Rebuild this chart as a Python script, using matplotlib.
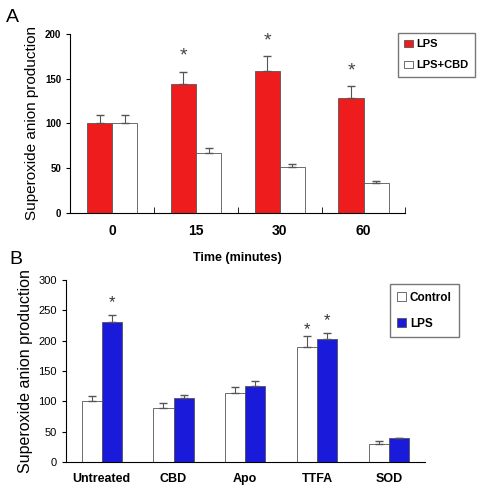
import matplotlib
matplotlib.use("Agg")
import matplotlib.pyplot as plt
import numpy as np

plt.rcParams['font.family'] = ['Liberation Sans', 'DejaVu Sans']

# Panel A
tiempos = ["0", "15", "30", "60"]
lps_a = [100, 144, 159, 129]
lps_a_err = [10, 14, 16, 13]
cbd_a = [100, 67, 51, 33]
cbd_a_err = [10, 6, 4, 3]
estrellas_a = [False, True, True, True]

# Panel B
tratamientos = ["Untreated", "CBD", "Apo", "TTFA", "SOD"]
control_b = [100, 89, 113, 190, 30]
control_b_err = [8, 8, 10, 17, 4]
lps_b = [231, 105, 126, 202, 39]
lps_b_err = [12, 6, 7, 10, 1]
estrellas_b_ctrl = [False, False, False, True, False]
estrellas_b_lps = [True, False, False, True, False]

fig = plt.figure(figsize=(4.81, 4.93), dpi=100)

# ---- A ----
ax = fig.add_axes([0.146, 0.568, 0.697, 0.363])
x = np.arange(len(tiempos))
w = 0.3
ax.bar(x - w/2, lps_a, w, yerr=[np.zeros(4), lps_a_err], color="#ee1c1c",
       edgecolor="#555555", linewidth=0.6, capsize=3, error_kw=dict(lw=0.8, ecolor="#555555"), label="LPS")
ax.bar(x + w/2, cbd_a, w, yerr=[np.zeros(4), cbd_a_err], color="white",
       edgecolor="#555555", linewidth=0.6, capsize=3, error_kw=dict(lw=0.8, ecolor="#555555"), label="LPS+CBD")
for i, s in enumerate(estrellas_a):
    if s:
        ax.text(x[i] - w/2, lps_a[i] + lps_a_err[i] + 12, "*", ha="center", fontsize=14, color="#444444")
ax.set_xlim(-0.5, 3.5)
ax.set_ylim(0, 200)
ax.set_yticks([0, 50, 100, 150, 200])
ax.set_yticklabels(["0", "50", "100", "150", "200"], fontsize=7, fontweight="bold")
ax.set_xticks(x)
ax.set_xticklabels(tiempos, fontsize=10, fontweight="bold")
ax.tick_params(axis="x", length=0, pad=8)
ax.set_xticks(np.arange(-0.5, 4, 1), minor=True)
ax.tick_params(axis="x", which="minor", length=4, direction="in")
ax.tick_params(axis="y", length=3)
for sp in ["top", "right"]:
    ax.spines[sp].set_visible(False)
ax.set_ylabel("Superoxide anion production", fontsize=11)
ax.set_xlabel("Time (minutes)", fontsize=9, fontweight="bold", labelpad=10)
ax.legend(loc="upper left", bbox_to_anchor=(0.815, 0.945), bbox_transform=fig.transFigure,
          frameon=True, fancybox=False, edgecolor="#555555", borderpad=0.6,
          prop=dict(size=8, weight="bold"), handlelength=0.8, handletextpad=0.3, labelspacing=1.0)
fig.text(0.012, 0.955, "A", fontsize=14)

# ---- B ----
ax2 = fig.add_axes([0.137, 0.063, 0.746, 0.369])
x2 = np.arange(len(tratamientos))
w2 = 0.28
ax2.bar(x2 - w2/2, control_b, w2, yerr=[np.zeros(5), control_b_err], color="white",
        edgecolor="#555555", linewidth=0.6, capsize=3, error_kw=dict(lw=0.8, ecolor="#555555"), label="Control")
ax2.bar(x2 + w2/2, lps_b, w2, yerr=[np.zeros(5), lps_b_err], color="#1a1adb",
        edgecolor="#555555", linewidth=0.6, capsize=3, error_kw=dict(lw=0.8, ecolor="#555555"), label="LPS")
for i in range(5):
    if estrellas_b_ctrl[i]:
        ax2.text(x2[i] - w2/2, control_b[i] + control_b_err[i] + 3, "*", ha="center", fontsize=12, color="#333333")
    if estrellas_b_lps[i]:
        ax2.text(x2[i] + w2/2, lps_b[i] + lps_b_err[i] + 13, "*", ha="center", fontsize=12, color="#333333")
ax2.set_xlim(-0.5, 4.5)
ax2.set_ylim(0, 300)
ax2.set_yticks(range(0, 301, 50))
ax2.tick_params(axis="y", labelsize=8, length=3)
ax2.set_xticks(x2)
ax2.set_xticklabels(tratamientos, fontsize=9, fontweight="bold")
ax2.tick_params(axis="x", length=0, pad=8)
for sp in ["top", "right"]:
    ax2.spines[sp].set_visible(False)
ax2.set_ylabel("Superoxide anion production", fontsize=11.5)
ax2.legend(loc="upper right", bbox_to_anchor=(0.966, 0.435), bbox_transform=fig.transFigure,
           frameon=True, fancybox=False, edgecolor="#555555", borderpad=0.6,
           prop=dict(size=8.5, weight="bold"), handlelength=0.8, handletextpad=0.3, labelspacing=1.2)
fig.text(0.02, 0.465, "B", fontsize=14)

fig.savefig("out.png", dpi=100)
